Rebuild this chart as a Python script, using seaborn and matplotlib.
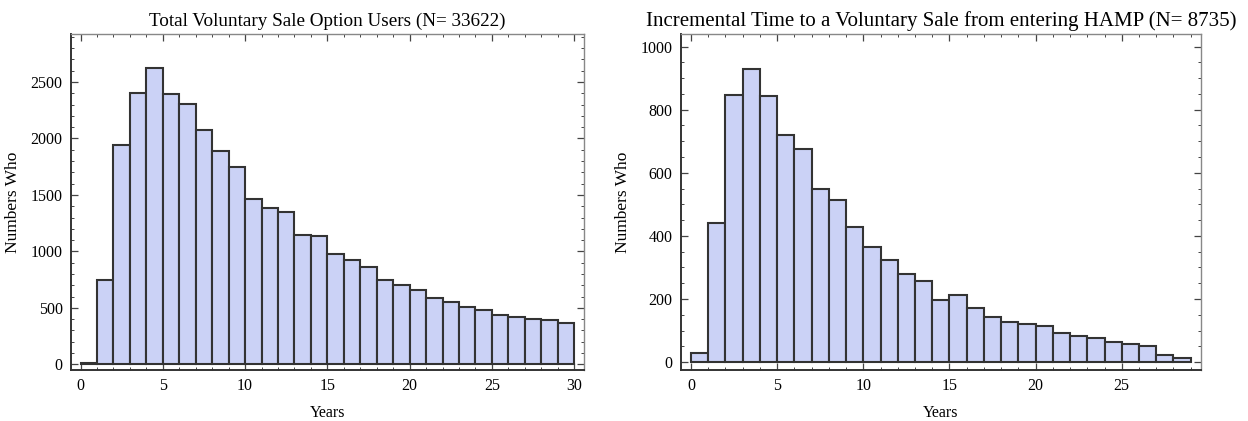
import numpy as np
import pandas as pd
import matplotlib
matplotlib.use("Agg")
import matplotlib.pyplot as plt
from matplotlib.ticker import MultipleLocator
import seaborn as sns

# valores (contagem por ano)
total_years = list(range(0, 30))
total_counts = [10, 750, 1945, 2405, 2625, 2390, 2305, 2075, 1890, 1750,
                1460, 1385, 1345, 1145, 1135, 975, 920, 865, 745, 700,
                655, 585, 550, 510, 480, 435, 420, 405, 395, 370]

hamp_years = list(range(0, 29))
hamp_counts = [28, 440, 848, 930, 845, 720, 677, 548, 513, 428,
               366, 323, 278, 256, 196, 213, 173, 142, 127, 121,
               113, 93, 84, 75, 64, 56, 50, 21, 13]

title_total = "Total Voluntary Sale Option Users (N= 33622)"
title_hamp = "Incremental Time to a Voluntary Sale from entering HAMP (N= 8735)"

sns.set_style("white")
plt.rcParams['font.family'] = ['Liberation Serif', 'DejaVu Serif']
plt.rcParams['text.color'] = 'black'
plt.rcParams['axes.labelcolor'] = 'black'

fill = "#cbd2f6"
edge = "#333333"
frame = "#444444"

fig = plt.figure(figsize=(12.48, 4.21), dpi=100)
ax1 = fig.add_axes([71 / 1248, 1 - 370 / 421, 513 / 1248, 336 / 421])
ax2 = fig.add_axes([681 / 1248, 1 - 370 / 421, 520 / 1248, 336 / 421])


def draw(ax, years, counts, title, tsize, xlim, ylim, xmajor, ymajor, yminor):
    df = pd.DataFrame({"year": np.array(years) + 0.5, "count": counts})
    n = len(years)
    sns.histplot(data=df, x="year", weights="count", bins=n, binrange=(0, n),
                 ax=ax, color=fill, edgecolor=edge, linewidth=1.5, alpha=1)
    ax.set_xlim(*xlim)
    ax.set_ylim(*ylim)
    ax.xaxis.set_major_locator(MultipleLocator(xmajor))
    ax.xaxis.set_minor_locator(MultipleLocator(1))
    ax.yaxis.set_major_locator(MultipleLocator(ymajor))
    ax.yaxis.set_minor_locator(MultipleLocator(yminor))
    ax.tick_params(which='both', direction='in', top=True, right=True,
                   bottom=True, left=True,
                   color=frame, labelsize=11.5, labelcolor='black')
    ax.tick_params(which='major', length=5, width=0.9, pad=6)
    ax.tick_params(which='minor', length=2.5, width=0.7)
    for side, sp in ax.spines.items():
        sp.set_visible(True)
        if side in ('bottom', 'left'):
            sp.set_color("#333333")
            sp.set_linewidth(1.4)
        else:
            sp.set_color("#888888")
            sp.set_linewidth(1.0)
    ax.set_title(title, fontsize=tsize, pad=6, color='black')
    ax.set_xlabel("Years", fontsize=11.5, labelpad=8)
    ax.set_ylabel("Numbers Who", fontsize=12.5, labelpad=7)


draw(ax1, total_years, total_counts, title_total, 13.8,
     (-0.58, 30.6), (-50, 2925), 5, 500, 100)
draw(ax2, hamp_years, hamp_counts, title_hamp, 15,
     (-0.58, 29.6), (-25, 1040), 5, 200, 50)

fig.savefig("out.png", dpi=100)
